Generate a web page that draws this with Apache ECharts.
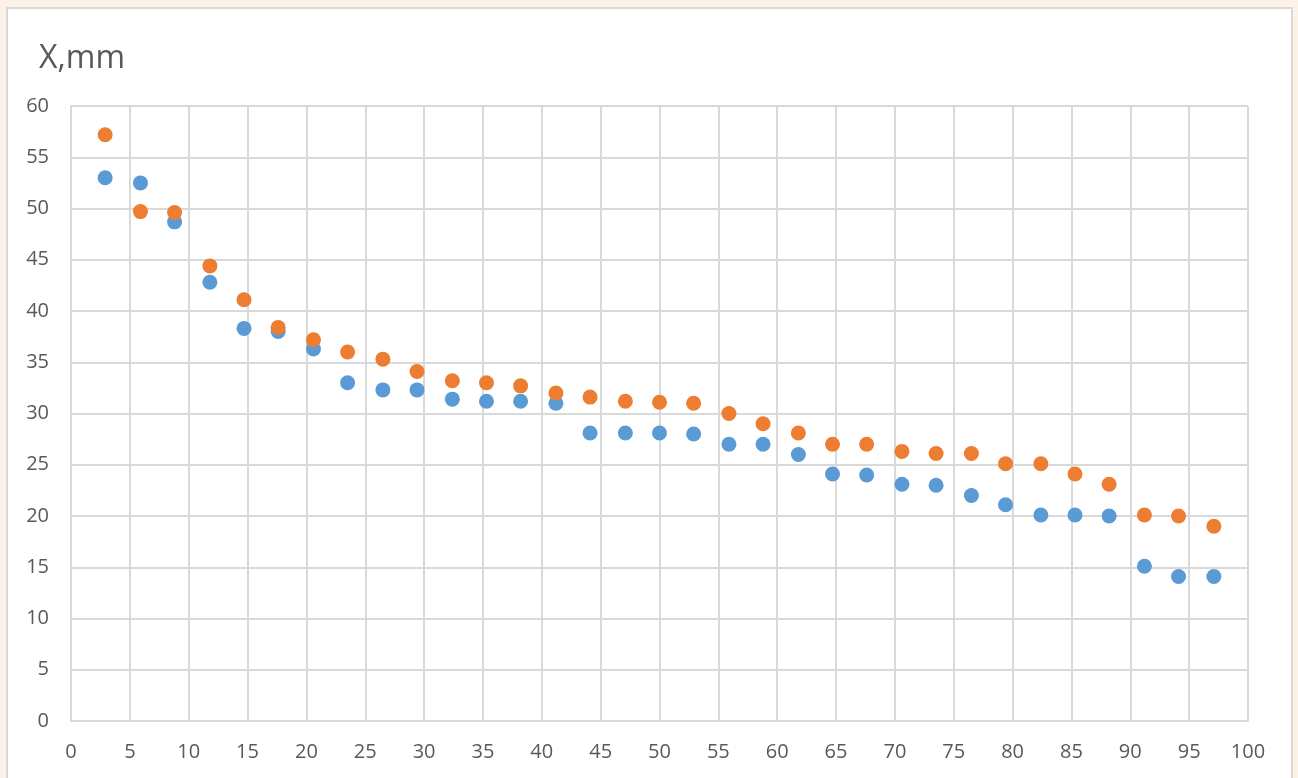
<!DOCTYPE html>
<html>
<head>
<meta charset="utf-8">
<script src="https://cdn.jsdelivr.net/npm/echarts@6/dist/echarts.min.js"></script>
<style>
html,body{margin:0;padding:0;background:#fdf2e8;}
#frame{position:absolute;left:6px;top:7px;width:1287px;height:780px;background:#fff;border:2px solid #d9d9d9;box-sizing:border-box;}
#chart{position:absolute;left:0;top:0;width:1298px;height:778px;}
</style>
</head>
<body>
<div id="frame"></div>
<div id="chart"></div>
<script>
const xValues = [2.9, 5.9, 8.8, 11.8, 14.7, 17.6, 20.6, 23.5, 26.5, 29.4, 32.4, 35.3, 38.2, 41.2, 44.1, 47.1, 50.0, 52.9, 55.9, 58.8, 61.8, 64.7, 67.6, 70.6, 73.5, 76.5, 79.4, 82.4, 85.3, 88.2, 91.2, 94.1, 97.1];
const blueValues = [53.0, 52.5, 48.7, 42.8, 38.3, 38.0, 36.3, 33.0, 32.3, 32.3, 31.4, 31.2, 31.2, 31.0, 28.1, 28.1, 28.1, 28.0, 27.0, 27.0, 26.0, 24.1, 24.0, 23.1, 23.0, 22.0, 21.1, 20.1, 20.1, 20.0, 15.1, 14.1, 14.1];
const orangeValues = [57.2, 49.7, 49.6, 44.4, 41.1, 38.4, 37.2, 36.0, 35.3, 34.1, 33.2, 33.0, 32.7, 32.0, 31.6, 31.2, 31.1, 31.0, 30.0, 29.0, 28.1, 27.0, 27.0, 26.3, 26.1, 26.1, 25.1, 25.1, 24.1, 23.1, 20.1, 20.0, 19.0];
const yTitle = 'X,mm';

const chart = echarts.init(document.getElementById('chart'));
const labelStyle = {color:'#595959', fontSize:20, fontFamily:'Open Sans, Liberation Sans, sans-serif'};
chart.setOption({
  animation:false,
  backgroundColor:'transparent',
  title:{text:yTitle, left:34, top:38, textStyle:{color:'#595959', fontSize:32, fontWeight:'normal', fontFamily:'Open Sans, Liberation Sans, sans-serif'}},
  grid:{left:71, right:50, top:106, bottom:57},
  xAxis:{type:'value', min:0, max:100, interval:5,
    axisLine:{show:true, lineStyle:{color:'#d9d9d9', width:2}},
    axisTick:{show:false},
    axisLabel:Object.assign({margin:21}, labelStyle),
    splitLine:{show:true, lineStyle:{color:'#d9d9d9', width:2}}},
  yAxis:{type:'value', min:0, max:60, interval:5,
    axisLine:{show:true, lineStyle:{color:'#d9d9d9', width:2}},
    axisTick:{show:false},
    axisLabel:Object.assign({margin:22}, labelStyle),
    splitLine:{show:true, lineStyle:{color:'#d9d9d9', width:2}}},
  series:[
    {type:'scatter', symbolSize:15, itemStyle:{color:'#5b9bd5', opacity:1}, data:xValues.map((x,i)=>[x, blueValues[i]])},
    {type:'scatter', symbolSize:15, itemStyle:{color:'#ed7d31', opacity:1}, data:xValues.map((x,i)=>[x, orangeValues[i]])}
  ]
});
</script>
</body>
</html>
